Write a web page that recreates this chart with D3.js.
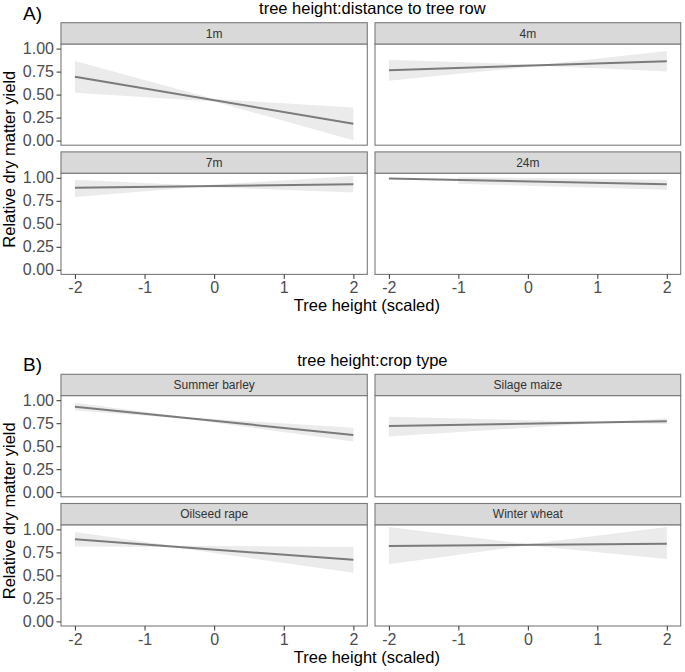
<!DOCTYPE html>
<html><head><meta charset="utf-8">
<script src="https://cdn.jsdelivr.net/npm/d3@7"></script>
<style>body{margin:0;background:#fff}</style></head>
<body>
<svg id="c" width="685" height="672"></svg>
<script>
// ---- data ----
const xTicks = [-2, -1, 0, 1, 2];
const xTickLabels = ["-2", "-1", "0", "1", "2"];
const yTicks = [0, 0.25, 0.5, 0.75, 1];
const yTickLabels = ["0.00", "0.25", "0.50", "0.75", "1.00"];
const sectionLabels = ["A)", "B)"];
const sectionTitles = ["tree height:distance to tree row", "tree height:crop type"];
const xTitle = "Tree height (scaled)";
const yTitle = "Relative dry matter yield";

// Section A: distance to tree row
const facetsA = ["1m", "4m", "7m", "24m"];
const lineXA = [[-2, 2], [-2, 2], [-2, 2], [-2, 2]];
const lineYA = [[0.694, 0.183], [0.766, 0.863], [0.892, 0.929], [0.992, 0.929]];
const ribbonXA = [[-2, 0, 2], [-2, 0.2, 2], [-2, -0.2, 2], [-1, 2]];
const ribbonLoA = [[0.52, 0.425, 0.003], [0.65, 0.814, 0.75], [0.79, 0.902, 0.84], [0.935, 0.87]];
const ribbonHiA = [[0.866, 0.452, 0.36], [0.88, 0.824, 0.974], [0.978, 0.916, 1.02], [1.007, 0.978]];

// Section B: crop type
const facetsB = ["Summer barley", "Silage maize", "Oilseed rape", "Winter wheat"];
const lineXB = [[-2, 2], [-2, 2], [-2, 2], [-2, 2]];
const lineYB = [[0.929, 0.622], [0.719, 0.77], [0.892, 0.669], [0.82, 0.845]];
const ribbonXB = [[-2, -0.4, 2], [-2, 1.1, 2], [-2, -0.6, 2], [-2, 0, 2]];
const ribbonLoB = [[0.889, 0.799, 0.55], [0.605, 0.754, 0.74], [0.813, 0.808, 0.529], [0.62, 0.827, 0.677]];
const ribbonHiB = [[0.972, 0.814, 0.70], [0.82, 0.763, 0.80], [0.971, 0.821, 0.81], [1.025, 0.838, 1.025]];

const sections = [
  {label: sectionLabels[0], title: sectionTitles[0], facets: facetsA, lx: lineXA, ly: lineYA, rx: ribbonXA, rlo: ribbonLoA, rhi: ribbonHiA},
  {label: sectionLabels[1], title: sectionTitles[1], facets: facetsB, lx: lineXB, ly: lineYB, rx: ribbonXB, rlo: ribbonLoB, rhi: ribbonHiB}
];

// ---- layout ----
const FONT = "'Liberation Sans', Arial, Helvetica, sans-serif";
const cols = [[61, 367.3], [375, 680.7]];
const sectionTop = [22.7, 374.3];
const stripH = 21.3, panelH = 101.2, rowGap = 6.7;
const borderCol = "#7a7a7a";

const svg = d3.select("#c");
svg.append("rect").attr("width", 685).attr("height", 672).attr("fill", "#fff");

sections.forEach((sec, si) => {
  const top = sectionTop[si];
  const g = svg.append("g");
  const plotCenterX = (cols[0][0] + cols[1][1]) / 2;

  // section label and title
  g.append("text").attr("x", 23).attr("y", top - 3.2).attr("font-family", FONT)
    .attr("font-size", 19).attr("fill", "#000").text(sec.label);
  g.append("text").attr("x", plotCenterX + 1.5).attr("y", top - 8.7).attr("text-anchor", "middle")
    .attr("font-family", FONT).attr("font-size", 16.5).attr("fill", "#000").text(sec.title);

  let lastBottom = 0;
  sec.facets.forEach((name, i) => {
    const r = Math.floor(i / 2), c = i % 2;
    const stripTop = top + r * (stripH + panelH + rowGap);
    const pTop = stripTop + stripH, pBot = pTop + panelH;
    lastBottom = pBot;
    const x = d3.scaleLinear().domain([-2.2, 2.2]).range([cols[c][0], cols[c][1]]);
    const y = d3.scaleLinear().domain([-0.05, 1.05]).range([pBot, pTop]);
    const pg = g.append("g");

    pg.append("rect").attr("x", cols[c][0]).attr("y", pTop).attr("width", cols[c][1] - cols[c][0])
      .attr("height", panelH).attr("fill", "#fff");

    // ribbon
    const rib = sec.rx[i].map((xv, k) => ({x: xv, lo: sec.rlo[i][k], hi: sec.rhi[i][k]}));
    pg.append("path").datum(rib)
      .attr("d", d3.area().x(d => x(d.x)).y0(d => y(d.lo)).y1(d => y(d.hi)))
      .attr("fill", "#ebebeb");

    // line
    const ln = sec.lx[i].map((xv, k) => ({x: xv, y: sec.ly[i][k]}));
    pg.append("path").datum(ln)
      .attr("d", d3.line().x(d => x(d.x)).y(d => y(d.y)))
      .attr("fill", "none").attr("stroke", "#7b7b7b").attr("stroke-width", 2);

    // panel border
    pg.append("rect").attr("x", cols[c][0]).attr("y", pTop).attr("width", cols[c][1] - cols[c][0])
      .attr("height", panelH).attr("fill", "none").attr("stroke", borderCol).attr("stroke-width", 1.1);

    // strip
    pg.append("rect").attr("x", cols[c][0]).attr("y", stripTop).attr("width", cols[c][1] - cols[c][0])
      .attr("height", stripH).attr("fill", "#d9d9d9").attr("stroke", borderCol).attr("stroke-width", 1.1);
    pg.append("text").attr("x", (cols[c][0] + cols[c][1]) / 2).attr("y", stripTop + stripH / 2)
      .attr("dy", "0.36em").attr("text-anchor", "middle").attr("font-family", FONT)
      .attr("font-size", 12).attr("fill", "#333").text(name);

    if (c === 0) {
      const ya = d3.axisLeft(y).tickValues(yTicks).tickSize(4.5).tickPadding(2.5)
        .tickFormat((d, k) => yTickLabels[k]);
      const yg = pg.append("g").attr("transform", `translate(${cols[c][0]},0)`).call(ya);
      yg.select(".domain").remove();
      yg.selectAll("line").attr("stroke", "#333").attr("stroke-width", 1);
      yg.selectAll("text").attr("font-family", FONT).attr("font-size", 16).attr("fill", "#4d4d4d");
    }
    if (r === 1) {
      const xa = d3.axisBottom(x).tickValues(xTicks).tickSize(4.5).tickPadding(3)
        .tickFormat((d, k) => xTickLabels[k]);
      const xg = pg.append("g").attr("transform", `translate(0,${pBot})`).call(xa);
      xg.select(".domain").remove();
      xg.selectAll("line").attr("stroke", "#333").attr("stroke-width", 1);
      xg.selectAll("text").attr("font-family", FONT).attr("font-size", 16).attr("fill", "#4d4d4d");
    }
  });

  const innerTop = top + stripH;
  g.append("text").attr("x", plotCenterX - 4).attr("y", lastBottom + 36.6).attr("text-anchor", "middle")
    .attr("font-family", FONT).attr("font-size", 16.5).attr("fill", "#000").text(xTitle);
  const yc = (innerTop + lastBottom) / 2;
  g.append("text").attr("transform", `translate(15,${yc}) rotate(-90)`).attr("text-anchor", "middle")
    .attr("font-family", FONT).attr("font-size", 16.5).attr("fill", "#000").text(yTitle);
});
</script>
</body></html>
